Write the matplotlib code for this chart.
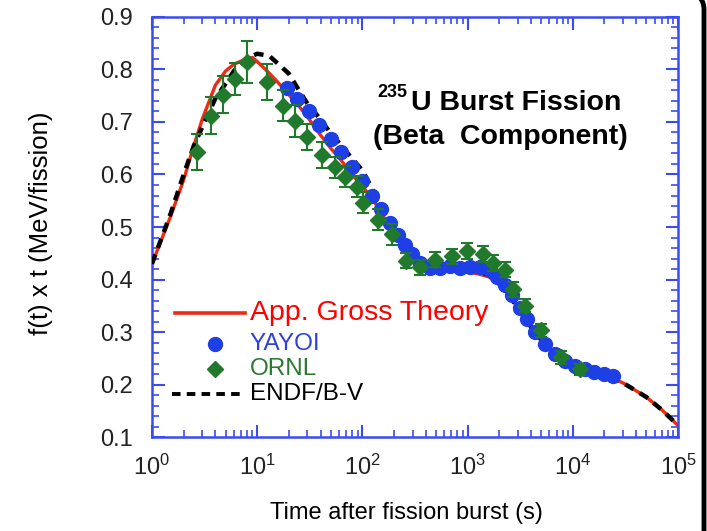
import numpy as np
import matplotlib
matplotlib.use('Agg')
import matplotlib.pyplot as plt
from matplotlib.ticker import MultipleLocator, LogLocator, NullFormatter
from matplotlib.patches import FancyBboxPatch

plt.rcParams['font.family'] = ['Liberation Sans', 'DejaVu Sans']
plt.rcParams['mathtext.fontset'] = 'custom'
plt.rcParams['mathtext.rm'] = 'Liberation Sans'

# App. Gross Theory (red line)
gt_t = [1, 1.5, 2, 2.5, 3, 4, 5, 6, 8, 9, 10, 12, 15, 20, 25, 30, 40, 50, 60, 80,
        100, 130, 170, 200, 250, 300, 400, 500, 700, 1000, 1300, 1600, 2000, 2500,
        3000, 4000, 5000, 7000, 1e4, 1.5e4, 2e4, 3e4, 4e4, 5e4, 7e4, 1e5]
gt_v = [0.43, 0.52, 0.59, 0.655, 0.705, 0.77, 0.797, 0.81, 0.821, 0.823, 0.815,
        0.80, 0.78, 0.752, 0.73, 0.71, 0.675, 0.65, 0.632, 0.60, 0.578, 0.548,
        0.51, 0.49, 0.46, 0.442, 0.425, 0.42, 0.418, 0.415, 0.41, 0.405, 0.39,
        0.37, 0.345, 0.31, 0.285, 0.255, 0.237, 0.226, 0.218, 0.203, 0.188,
        0.176, 0.152, 0.122]

# ENDF/B-V (black dashed)
endf_t = [1, 1.5, 2, 2.5, 3, 4, 5, 6, 7, 8, 10, 13, 15, 20, 25, 30, 40, 50, 60, 80,
          100, 130, 170, 200, 250, 300, 400, 500, 700, 1000, 1300, 1600, 2000, 2500,
          3000, 4000, 5000, 7000, 1e4, 1.5e4, 2e4, 3e4, 4e4, 5e4, 7e4, 1e5]
endf_v = [0.43, 0.525, 0.60, 0.655, 0.69, 0.745, 0.773, 0.797, 0.81, 0.822, 0.83,
          0.826, 0.815, 0.792, 0.76, 0.735, 0.705, 0.678, 0.66, 0.63, 0.608, 0.565,
          0.527, 0.50, 0.465, 0.445, 0.43, 0.425, 0.425, 0.42, 0.415, 0.408, 0.392,
          0.37, 0.345, 0.31, 0.285, 0.255, 0.237, 0.226, 0.218, 0.203, 0.188,
          0.176, 0.152, 0.122]

# YAYOI (blue circles)
yayoi_t = [19, 24, 31, 39, 50, 63, 80, 100, 123, 150, 183, 218, 255, 297, 350, 440,
           550, 680, 850, 1060, 1320, 1650, 1900, 2270, 2650, 3170, 3670, 4370, 5460,
           6820, 8520, 10600, 13000, 16000, 20000, 24000]
yayoi_v = [0.765, 0.744, 0.72, 0.695, 0.668, 0.642, 0.615, 0.588, 0.56, 0.535, 0.508,
           0.485, 0.465, 0.448, 0.432, 0.422, 0.421, 0.425, 0.421, 0.423, 0.424,
           0.418, 0.405, 0.39, 0.37, 0.345, 0.325, 0.30, 0.278, 0.258, 0.245, 0.236,
           0.23, 0.224, 0.22, 0.217]

# ORNL (green diamonds)
ornl_t = [2.7, 3.6, 4.7, 6.1, 8.0, 12.4, 17.4, 22.9, 29.7, 41, 55, 69, 89, 101, 140,
          192, 262, 350, 490, 710, 990, 1400, 1750, 2270, 2700, 3500, 5000, 7800, 11700]
ornl_v = [0.643, 0.712, 0.752, 0.782, 0.814, 0.776, 0.731, 0.702, 0.672, 0.637, 0.614,
          0.596, 0.577, 0.546, 0.514, 0.486, 0.436, 0.423, 0.438, 0.444, 0.455, 0.448,
          0.432, 0.419, 0.381, 0.35, 0.303, 0.252, 0.229]
ornl_err = [0.035, 0.035, 0.035, 0.03, 0.04, 0.035, 0.03, 0.03, 0.025, 0.025, 0.02,
            0.02, 0.02, 0.02, 0.02, 0.02, 0.015, 0.015, 0.015, 0.015, 0.015, 0.015,
            0.015, 0.015, 0.015, 0.012, 0.012, 0.012, 0.01]

red = '#ee2a10'
blue = '#1f3fe6'
green = '#217a2c'
axblue = '#3a4cf0'

fig = plt.figure(figsize=(7.07, 5.31), dpi=100)
ax = fig.add_axes([0.215, 0.177, 0.744, 0.791])

ax.plot(gt_t, gt_v, color=red, lw=2.4, zorder=2)
ax.plot(endf_t, endf_v, color='black', lw=3.2, ls=(0, (2.2, 1.6)), zorder=3)
ax.errorbar(yayoi_t, yayoi_v, yerr=0.008, fmt='o', color=blue, ms=10,
            elinewidth=1, capsize=3, zorder=4)
ax.errorbar(ornl_t, ornl_v, yerr=ornl_err, fmt='D', color=green, ms=8,
            elinewidth=1.5, capsize=4, capthick=1.5, zorder=5)

ax.set_xscale('log')
ax.set_xlim(1, 1e5)
ax.set_ylim(0.1, 0.9)
ax.yaxis.set_major_locator(MultipleLocator(0.1))
ax.yaxis.set_minor_locator(MultipleLocator(0.02))
ax.xaxis.set_major_locator(LogLocator(base=10, numticks=10))
ax.xaxis.set_minor_locator(LogLocator(base=10, subs=np.arange(2, 10), numticks=20))
ax.xaxis.set_minor_formatter(NullFormatter())
ax.set_yticks([0.1, 0.2, 0.3, 0.4, 0.5, 0.6, 0.7, 0.8, 0.9])
ax.set_yticklabels(['0.1', '0.2', '0.3', '0.4', '0.5', '0.6', '0.7', '0.8', '0.9'])

for s in ax.spines.values():
    s.set_color(axblue)
    s.set_linewidth(1.8)
ax.tick_params(which='both', direction='in', top=True, right=True, color=axblue,
               labelcolor='#222222', labelsize=17)
ax.tick_params(axis='y', which='major', pad=14)
ax.tick_params(axis='x', which='major', pad=13)
ax.tick_params(which='major', length=9, width=1.5)
ax.tick_params(which='minor', length=5, width=1.2)

ax.set_xlabel('Time after fission burst (s)', fontsize=17)
ax.set_ylabel('f(t) x t (MeV/fission)', fontsize=18.5)
ax.xaxis.set_label_coords(0.483, -0.155)
ax.yaxis.set_label_coords(-0.188, 0.51)

# legend drawn by hand as in the original
ax.plot([1.65, 7.7], [0.337, 0.337], color=red, lw=2.6, zorder=6)
ax.text(8.5, 0.337, 'App. Gross Theory', color='#ff0000', fontsize=20.5, va='center')
ax.plot([4.0], [0.278], 'o', color=blue, ms=10)
ax.text(8.5, 0.278, 'YAYOI', color='#3040d8', fontsize=17.5, va='center')
ax.plot([4.0], [0.229], 'D', color=green, ms=8)
ax.text(8.5, 0.229, 'ORNL', color='#2a7a30', fontsize=17.5, va='center')
ax.plot([1.55, 7.7], [0.181, 0.181], color='black', lw=2.8, ls=(0, (2.2, 1.6)))
ax.text(8.5, 0.181, 'ENDF/B-V', color='black', fontsize=17.5, va='center')

# title annotation
ax.text(0.492, 0.795, 'U Burst Fission', transform=ax.transAxes, fontsize=20.5,
        fontweight='bold', ha='left', va='center')
ax.text(0.428, 0.821, '235', transform=ax.transAxes, fontsize=13,
        fontweight='bold', ha='left', va='center')
ax.text(0.42, 0.714, '(Beta  Component)', transform=ax.transAxes, fontsize=20.5,
        fontweight='bold', ha='left', va='center')

# black rounded frame at the right edge
frame = FancyBboxPatch((-0.2, -0.2), 0.2 + 704 / 707, 0.2 + 1 + 9 / 531,
                       boxstyle='round,pad=0,rounding_size=0.035',
                       transform=fig.transFigure, fill=False, ec='black', lw=3.5,
                       clip_on=False)
fig.patches.append(frame)

fig.savefig('out.png', dpi=100)
